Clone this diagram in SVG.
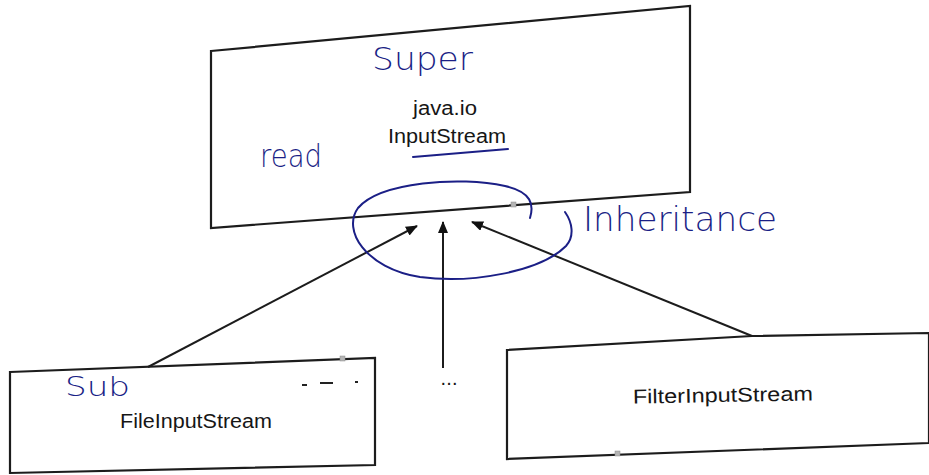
<svg xmlns="http://www.w3.org/2000/svg" width="929" height="475" viewBox="0 0 929 475">
  <style>
    .box { fill: #ffffff; stroke: #1c1c1c; stroke-width: 2.2; stroke-linejoin: miter; }
    .label { font-family: "Liberation Sans", Arial, sans-serif; font-size: 20px; fill: #161616; }
    .hand { font-family: "DejaVu Sans", "Open Sans", sans-serif; font-weight: 200; fill: #1b1f86; }
    .edge { stroke: #1c1c1c; stroke-width: 2; fill: none; }
    .ink { stroke: #1b1f86; stroke-width: 2; fill: none; stroke-linecap: round; }
    .handle { fill: #b5b5b5; stroke: #8a8a8a; stroke-width: 0.5; }
  </style>
  <defs>
    <marker id="arrow" viewBox="0 0 12 10" refX="11" refY="5" markerWidth="12" markerHeight="10" markerUnits="userSpaceOnUse" orient="auto">
      <path d="M0,0 L12,5 L0,10 Z" fill="#111111"/>
    </marker>
  </defs>

  <rect width="929" height="475" fill="#ffffff"/>

  <!-- superclass -->
  <g id="node-inputstream">
    <polygon class="box" points="211,51 690,6 690,192 211,228"/>
    <text class="label" x="445" y="115" text-anchor="middle" textLength="64" lengthAdjust="spacingAndGlyphs">java.io</text>
    <text class="label" x="447" y="143" text-anchor="middle" textLength="118" lengthAdjust="spacingAndGlyphs">InputStream</text>
  </g>

  <!-- subclasses -->
  <g id="node-fileinputstream">
    <polygon class="box" points="10,372 375,358 375,465 10,473"/>
    <text class="label" x="196" y="428" text-anchor="middle" textLength="152" lengthAdjust="spacingAndGlyphs">FileInputStream</text>
  </g>

  <g id="node-filterinputstream">
    <path class="box" d="M507,350 L752,336 L929,333 L929,443 L507,459 Z"/>
    <text class="label" x="723" y="402" text-anchor="middle" textLength="180" lengthAdjust="spacingAndGlyphs" transform="rotate(-1 723 402)">FilterInputStream</text>
  </g>

  <g id="node-more">
    <text class="label" x="449" y="385" text-anchor="middle" font-size="17" textLength="17" lengthAdjust="spacing">...</text>
  </g>

  <!-- inheritance connectors -->
  <g id="connectors">
    <line class="edge" x1="148" y1="367" x2="417" y2="226" marker-end="url(#arrow)"/>
    <line class="edge" x1="443" y1="368" x2="443" y2="222" marker-end="url(#arrow)"/>
    <line class="edge" x1="752" y1="336" x2="472" y2="222" marker-end="url(#arrow)"/>
  </g>

  <!-- editor handles -->
  <g id="handles">
    <rect class="handle" x="511" y="202" width="5" height="5"/>
    <rect class="handle" x="340" y="356" width="5" height="5"/>
    <rect class="handle" x="615" y="451" width="5" height="5"/>
  </g>

  <!-- pen notes -->
  <g id="annotations">
    <text class="hand" x="372" y="70" font-size="32" textLength="101" lengthAdjust="spacingAndGlyphs">Super</text>
    <path class="ink" d="M413,157 L508,149"/>
    <text class="hand" x="260" y="167" font-size="32" textLength="62" lengthAdjust="spacingAndGlyphs">read</text>
    <path class="ink" d="M530,218 C534,205 532,192 505,186 C460,176 380,182 358,208 C342,230 365,268 420,277 C470,284 540,272 566,246 C575,236 572,222 565,212"/>
    <text class="hand" x="583" y="231" font-size="34" textLength="194" lengthAdjust="spacingAndGlyphs">Inheritance</text>
    <text class="hand" x="65" y="396" font-size="26" textLength="65" lengthAdjust="spacingAndGlyphs">Sub</text>
    <path d="M302,385 L307,385 M320,383 L333,383 M355,382 L358,382" stroke="#222" stroke-width="2" fill="none"/>
  </g>
</svg>
